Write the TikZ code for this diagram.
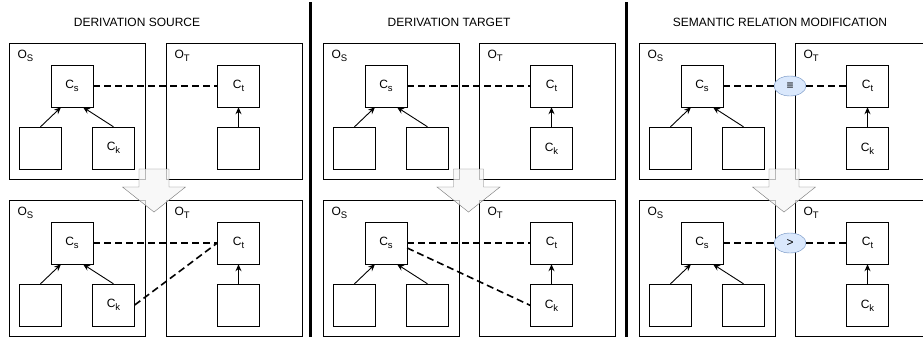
\documentclass[tikz,border=0pt]{standalone}
\usepackage{fontspec}
\setmainfont{Liberation Sans}
\usetikzlibrary{positioning}
\usetikzlibrary{shapes.geometric}
\usetikzlibrary{arrows.meta}
\definecolor{relfill}{HTML}{DAE8FC}
\definecolor{relline}{HTML}{6C8EBF}
\newcommand{\lowsub}[1]{\raisebox{-3pt}{\fontsize{9.5}{10}\selectfont #1}}

\begin{document}
\begin{tikzpicture}
		[x=1pt, y=-1pt, font=\fontsize{12}{14}\selectfont,
		onto/.style={draw, minimum width=136pt, minimum height=136pt, inner sep=0pt},
		concept/.style={draw, minimum size=42pt, inner sep=0pt},
		olabel/.style={anchor=base west, inner sep=0pt},
		corr/.style={line width=1.6pt, dash pattern=on 7pt off 4pt},
		isa/.style={-{Stealth[length=7pt,width=6pt]}, line width=0.9pt},
		rel/.style={ellipse, draw=relline, fill=relfill, minimum width=32pt, minimum height=20pt, inner sep=0pt},
		bigarrow/.style={draw=black!55, fill=black!4, fill opacity=0.75}]
		\clip (0,0) rectangle (923,346);

		\node (ttla) at (137,22) {DERIVATION SOURCE};
		\node (ttlb) at (449,22) {DERIVATION TARGET};
		\node (ttlc) at (780,22) {SEMANTIC RELATION MODIFICATION};

		% panels a, b, c; rows 1 (before) and 2 (after)
		\foreach \p/\xs/\xt/\kl/\kr in {a/9/166/{C\lowsub{k}}/{}, b/323/479/{}/{C\lowsub{k}}, c/639/795/{}/{C\lowsub{k}}}
		{
			\foreach \q/\dy in {1/0, 2/157}
			{
				\node[onto] (os\p\q) at (\xs+68, 111.5+\dy) {};
				\node[onto] (ot\p\q) at (\xt+68, 111.5+\dy) {};
				\node[olabel] (los\p\q) at ([xshift=8.5pt, yshift=-15pt]os\p\q.north west) {O\lowsub{S}};
				\node[olabel] (lot\p\q) at ([xshift=8.5pt, yshift=-15pt]ot\p\q.north west) {O\lowsub{T}};
				\node[concept] (cs\p\q) at (\xs+63, 86+\dy) {C\lowsub{s}};
				\node[concept] (ct\p\q) at (\xt+72.5, 86+\dy) {C\lowsub{t}};
				\node[concept] (x\p\q) at (\xs+31.5, 148+\dy) {};
				\node[concept] (y\p\q) at (\xs+104.5, 148+\dy) {\kl};
				\node[concept, below=20pt of ct\p\q] (z\p\q) {\kr};
				\draw[isa] (x\p\q.north) -- ([xshift=-11pt]cs\p\q.south);
				\draw[isa] (y\p\q.north) -- ([xshift=11pt]cs\p\q.south);
				\draw[isa] (z\p\q.north) -- (ct\p\q.south);
			}
		}

		\draw[corr] (csa1) -- (cta1);
		\draw[corr] (csa2) -- (cta2);
		\draw[corr] (ya2.east) -- (cta2.west);

		\draw[corr] (csb1) -- (ctb1);
		\draw[corr] (csb2) -- (ctb2);
		\draw[corr] ([yshift=-5pt]csb2.east) -- (zb2.west);

		\node[rel] (eqc1) at (790,86) {≡};
		\node[rel] (gtc2) at (790,243) {>};
		\draw[corr] (csc1) -- (eqc1);
		\draw[corr] (eqc1) -- (ctc1);
		\draw[corr] (csc2) -- (gtc2);
		\draw[corr] (gtc2) -- (ctc2);

		\draw[line width=2.5pt] (310.5,2) -- (310.5,337);
		\draw[line width=2.5pt] (626.5,2) -- (626.5,337);

		\foreach \ax in {154,468.5,784}
			\draw[bigarrow] (\ax-15,169) -- (\ax+15,169) -- (\ax+15,187) -- (\ax+31.5,187)
				-- (\ax,212) -- (\ax-31.5,187) -- (\ax-15,187) -- cycle;
	\end{tikzpicture}
\end{document}
